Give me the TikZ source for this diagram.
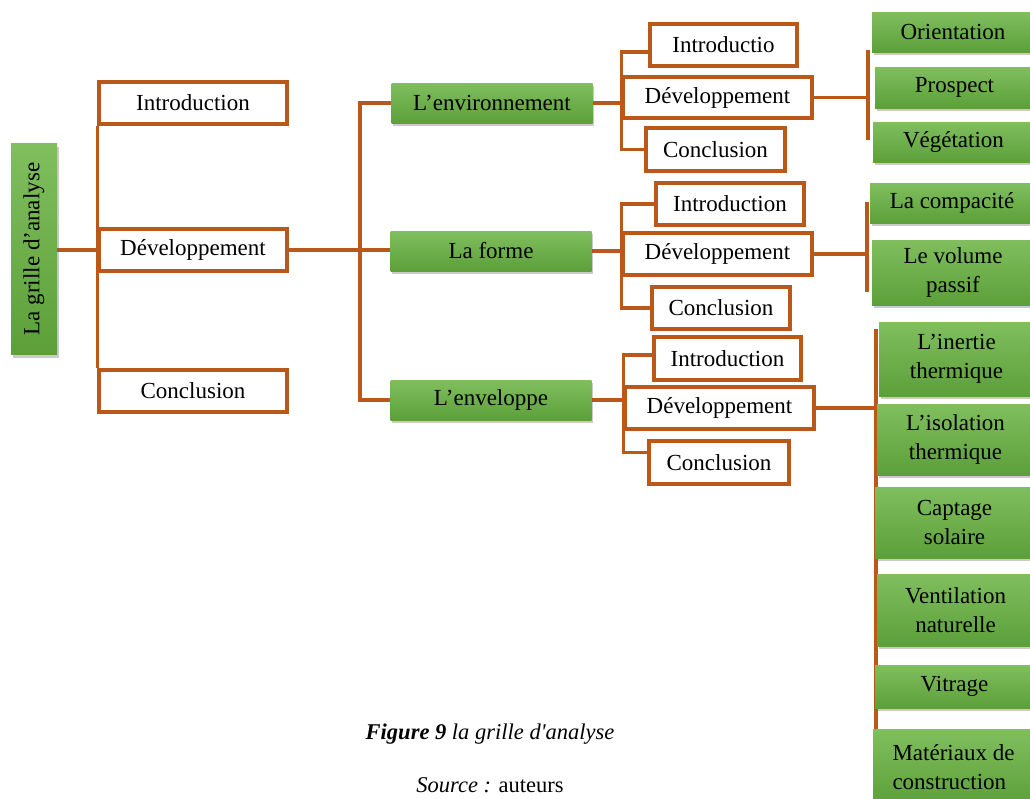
\documentclass[tikz,border=0pt]{standalone}
\usepackage{fontspec}
\setmainfont{Liberation Serif}[Ligatures=TeXOff]
\usetikzlibrary{shadows,backgrounds}
\definecolor{brn}{RGB}{185,88,25}
\definecolor{gtop}{RGB}{128,190,94}
\definecolor{gbot}{RGB}{92,160,58}
\begin{document}
\begin{tikzpicture}[x=1pt,y=-1pt,
  every node/.style={font=\fontsize{23}{29}\selectfont, inner sep=0pt, align=center},
  wbox/.style={draw=brn, line width=3.3pt, fill=white},
  gbox/.style={top color=gtop, bottom color=gbot,
    drop shadow={shadow xshift=1.5pt, shadow yshift=-3pt, opacity=0.35, fill=black!60}},
  conn/.style={draw=brn, line width=3.2pt},
  capt/.style={font=\fontsize{22.5}{27}\selectfont},
]
\useasboundingbox (0,0) rectangle (1030,798);

% root
\node[gbox, minimum width=46pt, minimum height=211pt] (root) at (34,249) {};
\node[rotate=90] (rootlbl) at (root) {La grille d’analyse};

% first level
\node[wbox, minimum width=188pt, minimum height=42pt] (l1i) at (193,103) {Introduction};
\node[wbox, minimum width=188pt, minimum height=42pt] (l1d) at (193,250) {Développement};
\node[wbox, minimum width=188pt, minimum height=42pt] (l1c) at (193,391) {Conclusion};

% themes
\node[gbox, minimum width=201pt, minimum height=40pt] (env) at (492,103) {L’environnement};
\node[gbox, minimum width=201pt, minimum height=40pt] (forme) at (491,251) {La forme};
\node[gbox, minimum width=201pt, minimum height=40pt] (envel) at (491,400) {L’enveloppe};

% environment group
\node[wbox, minimum width=147pt, minimum height=42pt] (ei) at (723.5,45) {Introductio};
\node[wbox, minimum width=189pt, minimum height=41pt] (ed) at (717.5,97.5) {Développement};
\node[wbox, minimum width=139pt, minimum height=43pt] (ec) at (715.5,149.5) {Conclusion};
\node[gbox, minimum width=162pt, minimum height=40pt] (or) at (953,32) {Orientation};
\node[gbox, minimum width=159pt, minimum height=41pt] (pr) at (954.5,87.5) {Prospect};
\node[gbox, minimum width=161pt, minimum height=40pt] (veg) at (953.5,142) {Végétation};

% form group
\node[wbox, minimum width=148pt, minimum height=42pt] (fi) at (730,204) {Introduction};
\node[wbox, minimum width=189pt, minimum height=42pt] (fd) at (717.5,254) {Développement};
\node[wbox, minimum width=138pt, minimum height=42pt] (fc) at (721,308) {Conclusion};
\node[gbox, minimum width=164pt, minimum height=40pt] (comp) at (952,203) {La compacité};
\node[gbox, minimum width=162pt, minimum height=65pt] (vol) at (953,272.5) {Le volume\\passif};

% envelope group
\node[wbox, minimum width=147pt, minimum height=43pt] (vi) at (727.5,358.5) {Introduction};
\node[wbox, minimum width=189pt, minimum height=42pt] (vd) at (719.5,408) {Développement};
\node[wbox, minimum width=140pt, minimum height=43pt] (vc) at (719,462.5) {Conclusion};
\node[gbox, minimum width=155pt, minimum height=74pt] (iner) at (956.5,359) {L’inertie\\thermique};
\node[gbox, minimum width=157pt, minimum height=71pt] (iso) at (955.5,439.5) {L’isolation\\thermique};
\node[gbox, minimum width=159pt, minimum height=71pt] (capt) at (954.5,522.5) {Captage\\solaire};
\node[gbox, minimum width=157pt, minimum height=72pt] (vent) at (955.5,610) {Ventilation\\naturelle};
\node[gbox, minimum width=159pt, minimum height=43pt] (vit) at (954.5,686.5) {Vitrage};
\node[gbox, minimum width=161pt, minimum height=75pt, align=left] (mat) at (953.5,767) {Matériaux de\\construction};

% bar ends
\coordinate (b1) at (360,250);
\coordinate (egt) at (868,50);
\coordinate (egb) at (868,140);
\coordinate (fgt) at (867,202);
\coordinate (fgb) at (867,292);
\coordinate (vgt) at (876,329);
\coordinate (vgb) at (876,763);

\begin{scope}[on background layer]
  \draw[conn] (root.east |- l1d.west) -- (l1d.west);
  \draw[conn] (l1i.south west) -- (l1c.north west);
  \draw[conn] (l1d.east) -- (l1d.east -| forme.west);
  \draw[conn] (env.west) -| (b1) |- (envel.west);

  \draw[conn] (env.east) -- (env.east -| ed.west);
  \draw[conn] ([yshift=-7pt]ei.west) -| (ed.west) |- (ec.west);
  \draw[conn] (ed.east) -- (ed.east -| egt);
  \draw[conn] (egt) -- (egb);

  \draw[conn] (forme.east) -- (forme.east -| fd.west);
  \draw[conn] (fi.west) -| (fd.west) |- (fc.west);
  \draw[conn] (fd.east) -- (fd.east -| fgt);
  \draw[conn] (fgt) -- (fgb);

  \draw[conn] (envel.east) -- (envel.east -| vd.west);
  \draw[conn] ([yshift=3.5pt]vi.west) -| (vd.west) |- ([yshift=10pt]vc.west);
  \draw[conn] (vd.east) -- (vd.east -| vgt);
  \draw[conn] (vgt) -- (vgb);
\end{scope}

% caption
\node[capt] (cap1) at (490,734) {\textbf{\textit{Figure 9}} \textit{la grille d'analyse}};
\node[capt] (cap2) at (490,785) {\textit{Source :} auteurs};
\end{tikzpicture}
\end{document}
